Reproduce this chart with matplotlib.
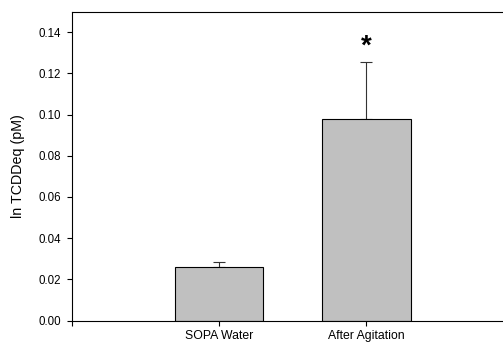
import matplotlib
matplotlib.use("Agg")
import matplotlib.pyplot as plt

groups = ["SOPA Water", "After Agitation"]
means = [0.0259, 0.0979]
errors = [0.0026, 0.0277]
star_y = 0.1330

plt.rcParams['font.family'] = ['Liberation Sans', 'DejaVu Sans']

fig = plt.figure(figsize=(5.03, 3.45), dpi=100)
ax = fig.add_axes([71.5 / 503, 1 - 320.5 / 345, (503 - 71.5) / 503 + 0.01, (320.5 - 11.5) / 345])

pos = [1, 2]
ax.bar(pos, means, width=0.6, color="#c0c0c0", edgecolor="black", linewidth=0.8, zorder=2)
ax.errorbar(pos, means, yerr=[[0, 0], errors], fmt="none", ecolor="#333333",
            elinewidth=0.8, capsize=4, capthick=0.8, zorder=1)
ax.text(2, star_y, "*", ha="center", va="center", fontsize=20, fontweight="bold")

ax.set_xlim(0, 2.96)
ax.set_ylim(0, 0.15)
ax.set_xticks([0, 1, 2])
ax.set_xticklabels(["", groups[0], groups[1]], fontsize=8.8)
ax.set_yticks([0, 0.02, 0.04, 0.06, 0.08, 0.10, 0.12, 0.14])
ax.set_yticklabels([f"{v:.2f}" for v in ax.get_yticks()], fontsize=8.3)
ax.tick_params(direction="out", length=3.6, width=0.8)
ax.tick_params(axis="y", pad=3.8)
ax.tick_params(axis="x", pad=3.5)
ax.set_ylabel("ln TCDDeq (pM)", fontsize=10.3)
ax.yaxis.set_label_coords(-0.106, 0.5)
for s in ax.spines.values():
    s.set_linewidth(0.8)
ax.spines["right"].set_visible(False)

fig.savefig("out.png", dpi=100)
